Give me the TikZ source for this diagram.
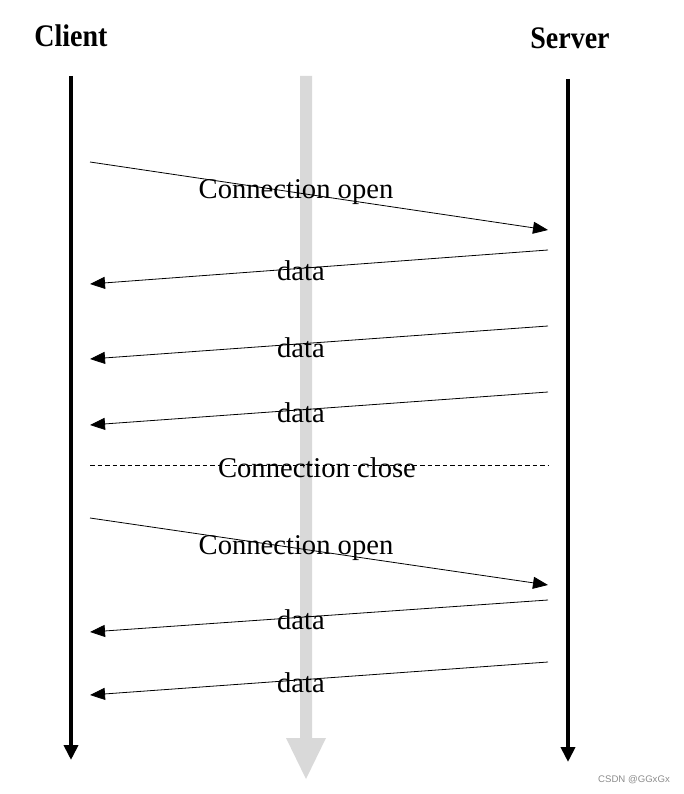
\documentclass[tikz,border=0pt]{standalone}
\usepackage{fontspec}
\setmainfont{Liberation Serif}
\setsansfont{Liberation Sans}
\usetikzlibrary{arrows.meta}
\definecolor{barcol}{HTML}{D9D9D9}
\tikzset{
  lifeline/.style={line width=4pt,-{Triangle[width=14pt,length=15pt]}},
  msg/.style={line width=0.8pt,-{Triangle[width=12pt,length=15pt]}},
  lbl/.style={font=\fontsize{28.6}{31}\selectfont,inner sep=0pt},
  head/.style={font=\fontsize{28}{31}\selectfont\bfseries,inner sep=0pt,yscale=1.12,transform shape}
}
\begin{document}
\begin{tikzpicture}[x=1pt,y=-1pt]
\useasboundingbox (0,0) rectangle (684,794);
% gray time bar
\fill[barcol] (300,76) -- (312,76) -- (312,738) -- (326,738) -- (306,779) -- (286,738) -- (300,738) -- cycle;
% headers
\node[head] (client) at (71,36) {Client};
\node[head] (server) at (570,38) {Server};
% lifelines
\coordinate (c0) at (71,76);
\coordinate (c1) at (71,760);
\coordinate (s0) at (568,79);
\coordinate (s1) at (568,762);
\draw[lifeline] (c0) -- (c1);
\draw[lifeline] (s0) -- (s1);
% message endpoints
\coordinate (a1) at (90,162);  \coordinate (b1) at (548,230);
\coordinate (a2) at (548,250); \coordinate (b2) at (90,284);
\coordinate (a3) at (548,326); \coordinate (b3) at (90,359);
\coordinate (a4) at (548,392); \coordinate (b4) at (90,425);
\coordinate (a5) at (90,465);  \coordinate (b5) at (548,465);
\coordinate (a6) at (90,518);  \coordinate (b6) at (548,585);
\coordinate (a7) at (548,600); \coordinate (b7) at (90,632);
\coordinate (a8) at (548,662); \coordinate (b8) at (90,695);
\draw[msg] (a1) -- (b1);
\draw[msg] (a2) -- (b2);
\draw[msg] (a3) -- (b3);
\draw[msg] (a4) -- (b4);
\draw[line width=0.7pt,dash pattern=on 4.5pt off 3pt] (a5) -- (b5);
\draw[msg] (a6) -- (b6);
\draw[msg] (a7) -- (b7);
\draw[msg] (a8) -- (b8);
% labels
\node[lbl] (l1) at (296,192) {Connection open};
\node[lbl] (l2) at (301,271) {data};
\node[lbl] (l3) at (301,348) {data};
\node[lbl] (l4) at (301,413) {data};
\node[lbl] (l5) at (317,468) {Connection close};
\node[lbl] (l6) at (296,548) {Connection open};
\node[lbl] (l7) at (301,620) {data};
\node[lbl] (l8) at (301,683) {data};
% watermark
\node[font=\sffamily\fontsize{9.6}{11}\selectfont,text=black!45,inner sep=0pt] (wm) at (634,780) {CSDN @GGxGx};
\end{tikzpicture}
\end{document}
